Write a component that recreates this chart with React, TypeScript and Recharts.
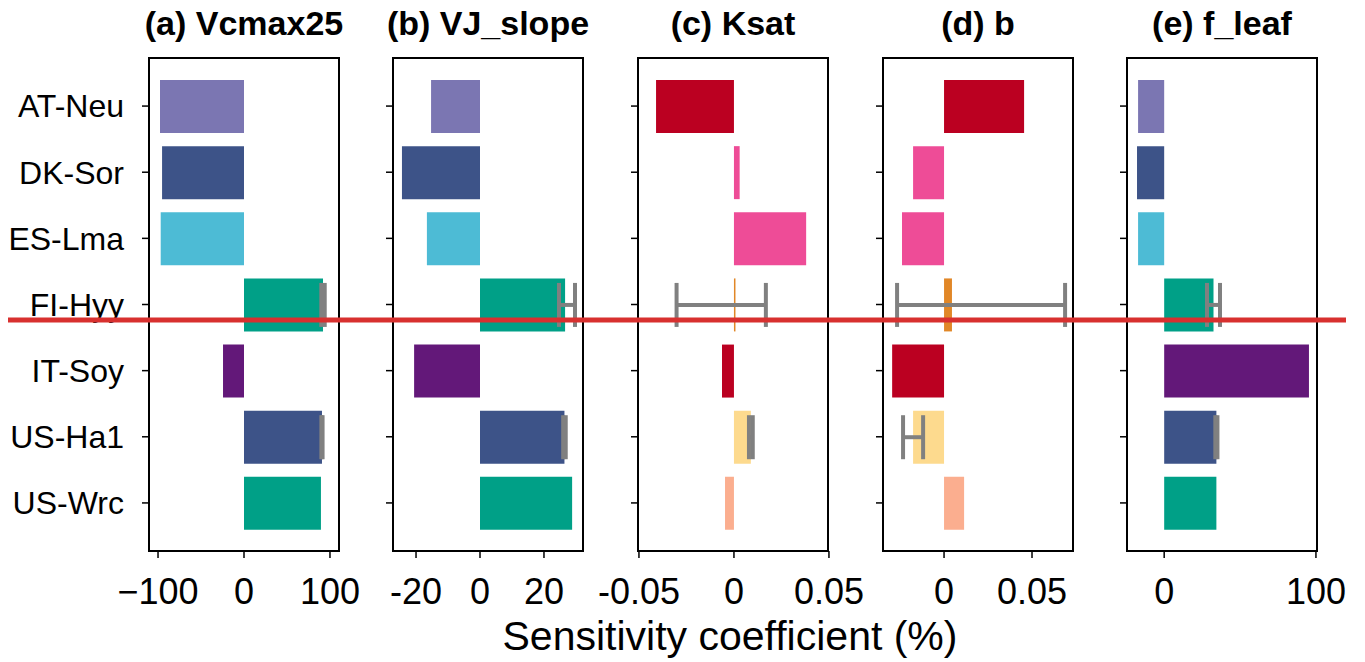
import React from "react";
import { BarChart, Bar, XAxis, YAxis, Cell, ErrorBar } from "recharts";

const sites = ["AT-Neu", "DK-Sor", "ES-Lma", "FI-Hyy", "IT-Soy", "US-Ha1", "US-Wrc"];

// sensitivity coefficients (%) per site, one array per parameter
const vcmax25 = [-97.7, -95.3, -96.9, 91.9, -24.4, 90.7, 89.5];
const vcmax25Err = [null, null, null, 2, null, 0.7, null];
const vjSlope = [-15.3, -24.4, -16.6, 26.6, -20.6, 26.4, 28.8];
const vjSlopeErr = [null, null, null, [1.9, 3.1], null, 0.4, null];
const ksat = [-0.041, 0.003, 0.038, 0.0008, -0.0063, 0.0089, -0.0047];
const ksatErr = [null, null, null, [0.031, 0.016], null, 0.001, null];
const bParam = [0.0455, -0.0176, -0.0239, 0.0045, -0.0295, -0.0176, 0.0114];
const bErr = [null, null, null, [0.0312, 0.0643], null, 0.0057, null];
const fLeaf = [-17.2, -17.9, -17.2, 32.5, 95.4, 34.4, 34.4];
const fLeafErr = [null, null, null, 4.3, null, 0.7, null];

const photoColors = ["#7B76B2", "#3D5388", "#4DBBD5", "#00A087", "#631879", "#3D5388", "#00A087"];
const hydroColors = ["#BB0021", "#EE4C97", "#EE4C97", "#E18727", "#BB0021", "#FDDA8E", "#FBAE8F"];

const FONT = "'Liberation Sans', Arial, sans-serif";
const PLOT_TOP = 58;
const PLOT_BOTTOM = 551;
const PLOT_W = 190;
const H = 662;

const panels = [
  { title: "(a) Vcmax25", values: vcmax25, errs: vcmax25Err, colors: photoColors,
    domain: [-110.5, 110.5], ticks: [-100, 0, 100], fmt: (v: number) => String(v).replace("-", "\u2212"), left: 149 },
  { title: "(b) VJ_slope", values: vjSlope, errs: vjSlopeErr, colors: photoColors,
    domain: [-27.2, 32.2], ticks: [-20, 0, 20], fmt: (v: number) => String(v), left: 393 },
  { title: "(c) Ksat", values: ksat, errs: ksatErr, colors: hydroColors,
    domain: [-0.0505, 0.0495], ticks: [-0.05, 0, 0.05], fmt: (v: number) => String(v), left: 638 },
  { title: "(d) b", values: bParam, errs: bErr, colors: hydroColors,
    domain: [-0.0347, 0.0733], ticks: [0, 0.05], fmt: (v: number) => String(v), left: 883 },
  { title: "(e) f_leaf", values: fLeaf, errs: fLeafErr, colors: photoColors,
    domain: [-24.5, 100.7], ticks: [0, 100], fmt: (v: number) => String(v), left: 1127 },
];

function Panel({ p, idx }: { p: (typeof panels)[number]; idx: number }) {
  const data = sites.map((s, i) => ({ site: s, value: p.values[i], err: p.errs[i] }));
  const first = idx === 0;
  const yW = first ? p.left : 10;
  const ml = first ? 0 : 60;
  const mr = 60;
  const chartLeft = p.left - yW - ml;
  const width = ml + yW + PLOT_W + mr;
  const axisStroke = { stroke: "#000", strokeWidth: 2 };
  return (
    <div style={{ position: "absolute", left: chartLeft, top: 0 }}>
      <BarChart
        width={width}
        height={H}
        data={data}
        layout="vertical"
        margin={{ top: PLOT_TOP, right: mr, left: ml, bottom: H - PLOT_BOTTOM - 40 }}
        style={{ overflow: "visible" }}
      >
        <XAxis
          type="number"
          domain={p.domain}
          ticks={p.ticks}
          allowDataOverflow
          height={40}
          tickFormatter={p.fmt}
          tickSize={7}
          tickMargin={20}
          axisLine={axisStroke}
          tickLine={{ stroke: "#000", strokeWidth: 1.5 }}
          tick={{ fill: "#000", fontSize: 36, fontFamily: FONT }}
        />
        <YAxis
          type="category"
          dataKey="site"
          width={yW}
          padding={{ top: 15, bottom: 15 }}
          tickSize={7}
          tickMargin={18}
          axisLine={axisStroke}
          tickLine={{ stroke: "#000", strokeWidth: 1.5 }}
          tickFormatter={first ? undefined : () => ""}
          tick={{ fill: "#000", fontSize: 32, fontFamily: FONT }}
        />
        <Bar dataKey="value" barSize={53} isAnimationActive={false}>
          {data.map((d, i) => (
            <Cell key={d.site} fill={p.colors[i]} />
          ))}
          <ErrorBar dataKey="err" direction="x" width={22} strokeWidth={4} stroke="#808080" />
        </Bar>
      </BarChart>
    </div>
  );
}

export default function App() {
  return (
    <div style={{ position: "absolute", left: 0, top: 0, width: 1365, height: H, background: "#fff", fontFamily: FONT }}>
      {panels.map((p, i) => (
        <Panel key={p.title} p={p} idx={i} />
      ))}
      <svg width={1365} height={H} style={{ position: "absolute", left: 0, top: 0, pointerEvents: "none" }}>
        {panels.map((p) => (
          <g key={p.title}>
            <rect x={p.left} y={PLOT_TOP} width={PLOT_W} height={PLOT_BOTTOM - PLOT_TOP} fill="none" stroke="#000" strokeWidth={2} />
            <text x={p.left + PLOT_W / 2} y={35} textAnchor="middle" fontSize={34} fontWeight="bold" fontFamily={FONT} fill="#000">
              {p.title}
            </text>
          </g>
        ))}
        <text x={730} y={650} textAnchor="middle" fontSize={41} fontFamily={FONT} fill="#000">
          Sensitivity coefficient (%)
        </text>
        <line x1={8} x2={1346} y1={320} y2={320} stroke="#D8302F" strokeWidth={5} />
      </svg>
    </div>
  );
}
